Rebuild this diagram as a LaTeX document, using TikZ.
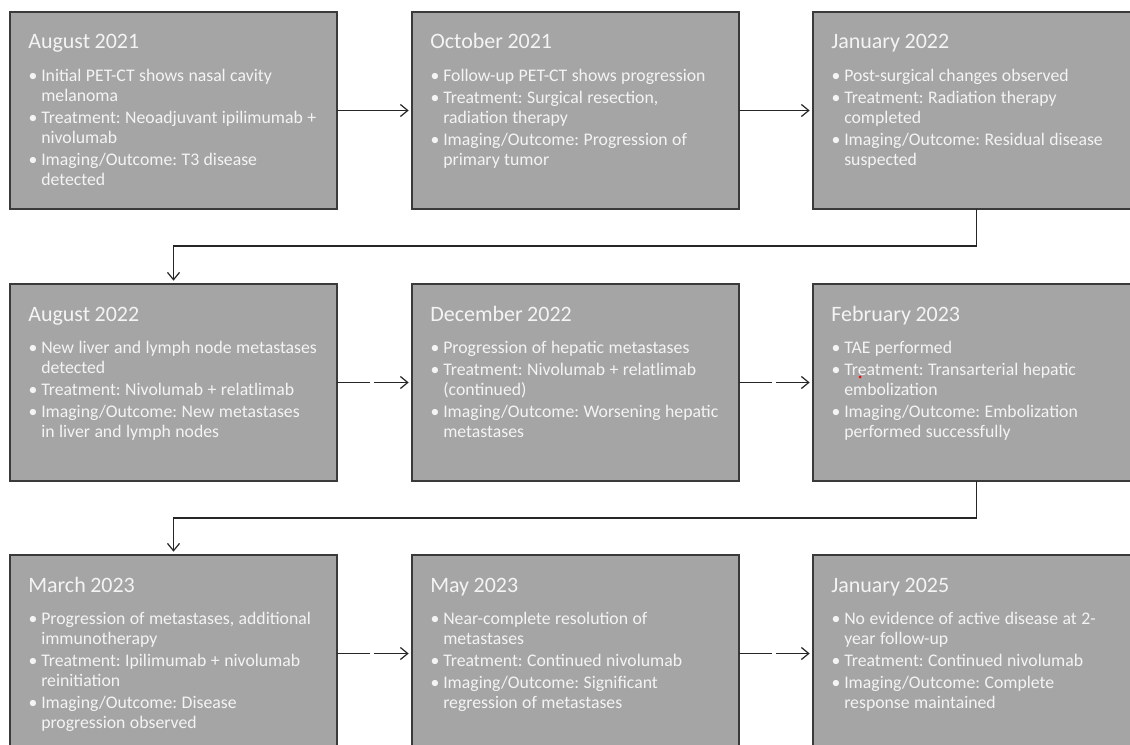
\documentclass[tikz,border=0pt]{standalone}
\usepackage{fontspec}
\setmainfont{Carlito}
\usetikzlibrary{arrows.meta}
\definecolor{boxfill}{HTML}{A5A5A5}
\definecolor{boxline}{HTML}{3A3A3A}
\definecolor{txt}{HTML}{F4F4F4}
\tikzset{
  tlbox/.style={draw=boxline, fill=boxfill, line width=1pt, minimum width=245.25pt,
    minimum height=147.75pt, anchor=north west, inner sep=0pt, outer sep=0pt},
  tltext/.style={anchor=base west, inner sep=0pt, text=txt, text width=235pt},
  conn/.style={draw=black!85, line width=0.9pt, -{Straight Barb[length=5.5pt,width=9pt]}, shorten >=2.5pt},
  dconn/.style={conn, dash pattern=on 24.75pt off 3pt}
}
\newcommand\ttl[1]{\noindent{\fontsize{16.5}{20}\selectfont #1}\par\vspace{7.4pt}}
\newcommand\bit[1]{\par\hangindent=9.75pt\hangafter=1\noindent\makebox[9.75pt][l]{\hspace{0.3pt}\textbullet}#1\par}
\newcommand\tlcard[5]{%
  \node[tlbox] (#1) at (#2,#3) {};
  \node[tltext] (#1t) at (#2+18,#3+37) {\frenchspacing\raggedright\ttl{#4}%
    \fontsize{13.3}{14.9}\selectfont\setlength{\parskip}{1.9pt}#5\par};
}
\begin{document}
\begin{tikzpicture}[x=0.75pt,y=-0.75pt]
\useasboundingbox (0,0) rectangle (1130,745);
\clip (0,0) rectangle (1130,745);
\fill[white] (0,0) rectangle (1130,745);

\tlcard{b1}{10}{12}{August 2021}{%
  \bit{Initial PET-CT shows nasal cavity\newline melanoma}
  \bit{Treatment: Neoadjuvant ipilimumab +\newline nivolumab}
  \bit{Imaging/Outcome: T3 disease\newline detected}}
\tlcard{b2}{412}{12}{October 2021}{%
  \bit{Follow-up PET-CT shows progression}
  \bit{Treatment: Surgical resection,\newline radiation therapy}
  \bit{Imaging/Outcome: Progression of\newline primary tumor}}
\tlcard{b3}{813}{12}{January 2022}{%
  \bit{Post-surgical changes observed}
  \bit{Treatment: Radiation therapy\newline completed}
  \bit{Imaging/Outcome: Residual disease\newline suspected}}

\tlcard{b4}{10}{284}{August 2022}{%
  \bit{New liver and lymph node metastases\newline detected}
  \bit{Treatment: Nivolumab + relatlimab}
  \bit{Imaging/Outcome: New metastases\newline in liver and lymph nodes}}
\tlcard{b5}{412}{284}{December 2022}{%
  \bit{Progression of hepatic metastases}
  \bit{Treatment: Nivolumab + relatlimab\newline (continued)}
  \bit{Imaging/Outcome: Worsening hepatic\newline metastases}}
\tlcard{b6}{813}{284}{February 2023}{%
  \bit{TAE performed}
  \bit{Treatment: Transarterial hepatic\newline embolization}
  \bit{Imaging/Outcome: Embolization\newline performed successfully}}

\tlcard{b7}{10}{555}{March 2023}{%
  \bit{Progression of metastases, additional\newline immunotherapy}
  \bit{Treatment: Ipilimumab + nivolumab\newline reinitiation}
  \bit{Imaging/Outcome: Disease\newline progression observed}}
\tlcard{b8}{412}{555}{May 2023}{%
  \bit{Near-complete resolution of\newline metastases}
  \bit{Treatment: Continued nivolumab}
  \bit{Imaging/Outcome: Significant\newline regression of metastases}}
\tlcard{b9}{813}{555}{January 2025}{%
  \bit{No evidence of active disease at 2-\newline year follow-up}
  \bit{Treatment: Continued nivolumab}
  \bit{Imaging/Outcome: Complete\newline response maintained}}

\fill[red] (860,377) circle (1.5);

\draw[conn] (b1.east) -- (b2.west);
\draw[conn] (b2.east) -- (b3.west);
\draw[conn] (b3.south) -- ++(0,37) -| (b4.north);
\draw[dconn] (b4.east) -- (b5.west);
\draw[dconn] (b5.east) -- (b6.west);
\draw[conn] (b6.south) -- ++(0,37) -| (b7.north);
\draw[dconn] (b7.east) -- (b8.west);
\draw[dconn] (b8.east) -- (b9.west);
\end{tikzpicture}
\end{document}
